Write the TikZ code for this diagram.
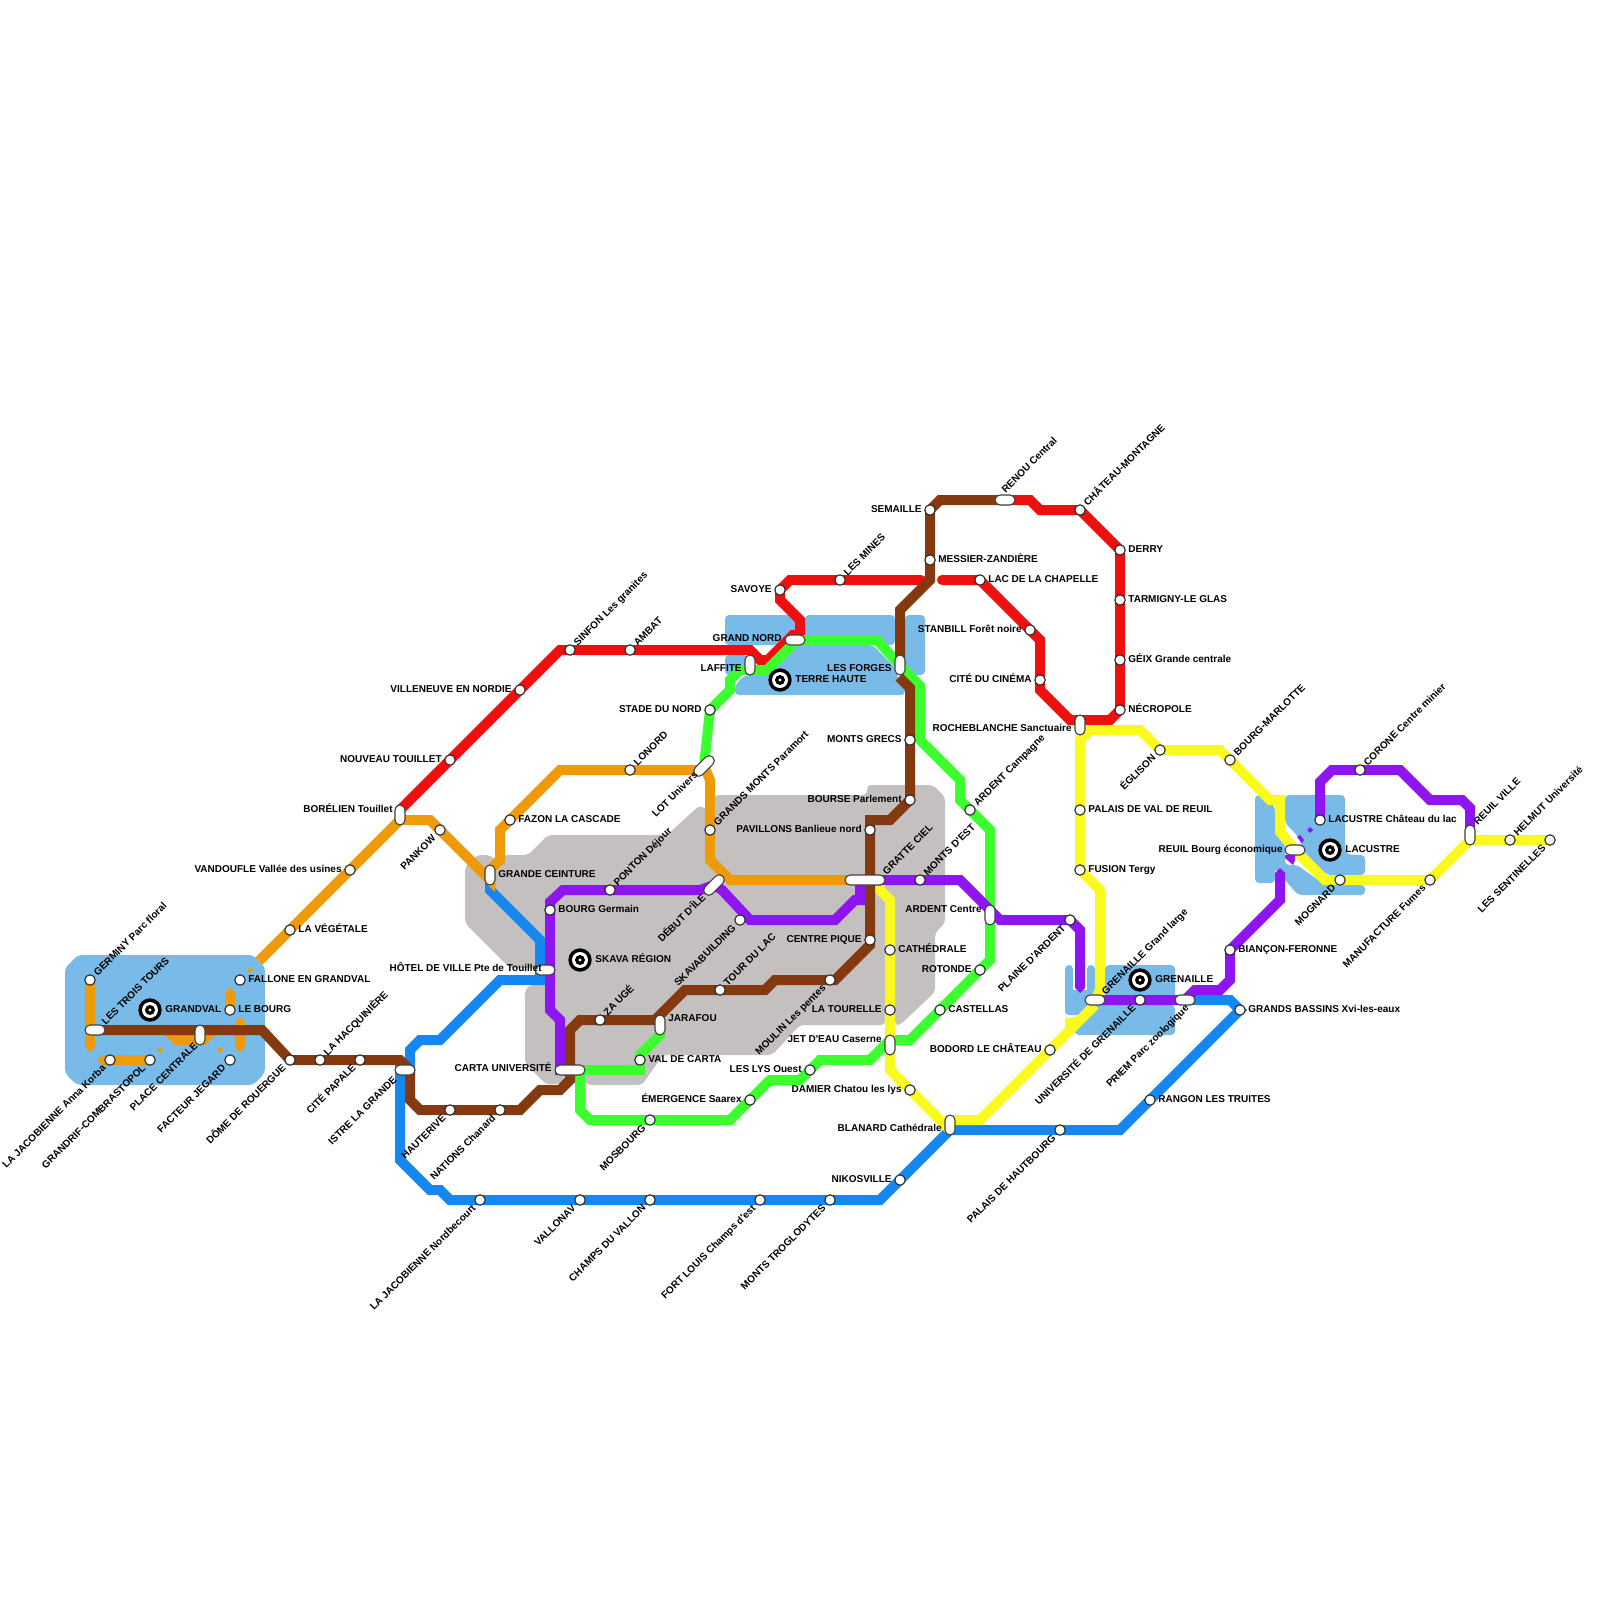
\documentclass[tikz,border=0pt]{standalone}
\usepackage{fontspec}
\usetikzlibrary{shapes.misc}
\newfontfamily\labfont{Liberation Sans}
\pgfdeclarelayer{areas}
\pgfdeclarelayer{lines}
\pgfsetlayers{areas,lines,main}
\definecolor{cOr}{HTML}{EE9A09}
\definecolor{cRe}{HTML}{F00F0F}
\definecolor{cGr}{HTML}{3CFF2E}
\definecolor{cYe}{HTML}{FAFA1E}
\definecolor{cPu}{HTML}{8E14F0}
\definecolor{cBr}{HTML}{843A0E}
\definecolor{cBl}{HTML}{1487F0}
\definecolor{cZone}{HTML}{79BBE8}
\definecolor{cGray}{HTML}{C4C0BF}
\tikzset{
 stop/.style={circle,draw=black!85,fill=white,line width=.55pt,minimum size=5.2pt,inner sep=0pt},
 pillbox/.style={rounded rectangle,draw=black!75,fill=white,line width=.55pt,minimum height=5pt,inner sep=0pt,outer sep=0pt},
 labbase/.style={font=\labfont\bfseries\fontsize{5}{6}\selectfont,inner sep=0pt,text height=3.6pt,text depth=0pt,text=black},
 labr/.style={labbase,xshift=4pt,yshift=.75pt,anchor=west},
 labl/.style={labbase,xshift=-4pt,yshift=.75pt,anchor=east},
 labu/.style={labbase,xshift=2.5pt,yshift=3pt,rotate=45,anchor=west},
 labd/.style={labbase,xshift=-3pt,yshift=-3pt,rotate=45,anchor=east},
 pabr/.style={labbase,anchor=west},
 pabl/.style={labbase,anchor=east},
 pabu/.style={labbase,rotate=45,anchor=west},
 pabd/.style={labbase,rotate=45,anchor=east},
 metro/.style={line width=5pt,line join=miter,miter limit=4},
 zone/.style={fill=cZone,rounded corners=2pt},
 grayzone/.style={fill=cGray,rounded corners=2pt},
}
\newcommand{\stn}[5]{\node[stop] (#1) at (#2,#3) {}; \node[lab#4] (#1-t) at (#2,#3) {#5};}
\newcommand{\pil}[9]{\node[pillbox,minimum width=#5*.5pt,rotate=#4] (#1) at (#2,#3) {}; \node[pab#6] (#1-t) at (#7,#8) {#9};}
\newcommand{\tgt}[4]{\node[circle,fill=black,minimum size=11.7pt,inner sep=0pt] (#1) at (#2,#3) {};
 \node[circle,fill=white,minimum size=8pt,inner sep=0pt] (#1-a) at (#1.center) {};
 \node[circle,fill=black,minimum size=5pt,inner sep=0pt] (#1-b) at (#1.center) {};
 \node[circle,fill=white,minimum size=1.6pt,inner sep=0pt] (#1-c) at (#1.center) {};
 \node[labbase,anchor=west,xshift=7.5pt,yshift=.75pt] (#1-t) at (#1.center) {#4};}
\begin{document}
\begin{tikzpicture}[x=.5pt,y=-.5pt]
\useasboundingbox (0,0) rectangle (1600,1600);
% stations
\stn{germiny}{90}{980}{u}{GERMINY Parc floral}
\pil{trois}{95}{1030}{0}{20}{u}{103}{1023}{LES TROIS TOURS}
\tgt{grandval}{150}{1010}{GRANDVAL}
\stn{fallone}{240}{980}{r}{FALLONE EN GRANDVAL}
\stn{lebourg}{230}{1010}{r}{LE BOURG}
\stn{vegetale}{290}{930}{r}{LA VÉGÉTALE}
\stn{korba}{110}{1060}{d}{LA JACOBIENNE Anna Korba}
\stn{grandrif}{150}{1060}{d}{GRANDRIF-COMBRASTOPOL}
\pil{placec}{200}{1035}{90}{20}{d}{196}{1044}{PLACE CENTRALE}
\stn{facteur}{230}{1060}{d}{FACTEUR JEGARD}
\stn{dome}{290}{1060}{d}{DÔME DE ROUERGUE}
\stn{hacq}{320}{1060}{u}{LA HACQUINIÈRE}
\stn{papale}{360}{1060}{d}{CITÉ PAPALE}
\pil{istre}{405}{1070}{0}{20}{d}{395}{1078}{ISTRE LA GRANDE}
\stn{hauterive}{450}{1110}{d}{HAUTERIVE}
\stn{nations}{500}{1110}{d}{NATIONS Chanard}
\stn{vandoufle}{350}{870}{l}{VANDOUFLE Vallée des usines}
\pil{borelien}{400}{815}{90}{20}{l}{393}{809}{BORÉLIEN Touillet}
\stn{nouveau}{450}{760}{l}{NOUVEAU TOUILLET}
\stn{villeneuve}{520}{690}{l}{VILLENEUVE EN NORDIE}
\stn{sinfon}{570}{650}{u}{SINFON Les granites}
\stn{ambat}{630}{650}{u}{AMBAT}
\stn{pankow}{440}{830}{d}{PANKOW}
\pil{ceinture}{490}{875}{90}{20}{r}{498}{874}{GRANDE CEINTURE}
\stn{fazon}{510}{820}{r}{FAZON LA CASCADE}
\stn{lonord}{630}{770}{u}{LONORD}
\pil{lot}{704}{766}{45}{25}{d}{696}{773}{LOT Univers}
\stn{paramort}{710}{830}{u}{GRANDS MONTS Paramort}
\pil{debut}{714}{885}{45}{25}{d}{704}{896}{DÉBUT D'ÎLE}
\stn{ponton}{610}{890}{u}{PONTON Déjour}
\stn{germain}{550}{910}{r}{BOURG Germain}
\tgt{skava}{580}{960}{SKAVA RÉGION}
\pil{hotel}{545}{970}{0}{20}{l}{542}{968}{HÔTEL DE VILLE Pte de Touillet}
\stn{skavab}{740}{920}{d}{SKAVABUILDING}
\stn{tourlac}{720}{990}{u}{TOUR DU LAC}
\stn{zauge}{600}{1020}{u}{ZA UGÉ}
\pil{jarafou}{660}{1025}{90}{20}{r}{668}{1018}{JARAFOU}
\pil{carta}{570}{1070}{0}{30}{l}{552}{1068}{CARTA UNIVERSITÉ}
\stn{valcarta}{640}{1060}{r}{VAL DE CARTA}
\stn{mosbourg}{650}{1120}{d}{MOSBOURG}
\stn{emergence}{750}{1100}{l}{ÉMERGENCE Saarex}
\stn{leslys}{810}{1070}{l}{LES LYS Ouest}
\stn{moulin}{830}{980}{d}{MOULIN Les pentes}
\stn{centrep}{870}{940}{l}{CENTRE PIQUE}
\stn{pavillons}{870}{830}{l}{PAVILLONS Banlieue nord}
\stn{bourse}{910}{800}{l}{BOURSE Parlement}
\stn{grecs}{910}{740}{l}{MONTS GRECS}
\pil{forges}{900}{665}{90}{20}{l}{892}{668}{LES FORGES}
\tgt{terre}{780}{680}{TERRE HAUTE}
\pil{laffite}{750}{665}{90}{20}{l}{742}{668}{LAFFITE}
\pil{gnord}{795}{640}{0}{20}{l}{782}{638}{GRAND NORD}
\stn{stade}{710}{710}{l}{STADE DU NORD}
\stn{savoye}{780}{590}{l}{SAVOYE}
\stn{mines}{840}{580}{u}{LES MINES}
\stn{semaille}{930}{510}{l}{SEMAILLE}
\stn{messier}{930}{560}{r}{MESSIER-ZANDIÈRE}
\pil{renou}{1005}{500}{0}{20}{u}{1003}{491}{RENOU Central}
\stn{chateau}{1080}{510}{u}{CHÂTEAU-MONTAGNE}
\stn{derry}{1120}{550}{r}{DERRY}
\stn{tarmigny}{1120}{600}{r}{TARMIGNY-LE GLAS}
\stn{geix}{1120}{660}{r}{GÉIX Grande centrale}
\stn{necropole}{1120}{710}{r}{NÉCROPOLE}
\stn{lacchap}{980}{580}{r}{LAC DE LA CHAPELLE}
\stn{stanbill}{1030}{630}{l}{STANBILL Forêt noire}
\stn{cinema}{1040}{680}{l}{CITÉ DU CINÉMA}
\pil{roche}{1080}{725}{90}{20}{l}{1072}{728}{ROCHEBLANCHE Sanctuaire}
\pil{gratte}{865}{880}{0}{40}{u}{884}{873}{GRATTE CIEL}
\stn{montsest}{920}{880}{u}{MONTS D'EST}
\stn{campagne}{970}{810}{u}{ARDENT Campagne}
\pil{ardentc}{990}{915}{90}{20}{l}{982}{909}{ARDENT Centre}
\stn{cathedrale}{890}{950}{r}{CATHÉDRALE}
\stn{rotonde}{980}{970}{l}{ROTONDE}
\stn{tourelle}{890}{1010}{l}{LA TOURELLE}
\stn{castellas}{940}{1010}{r}{CASTELLAS}
\pil{jet}{890}{1045}{90}{20}{l}{882}{1039}{JET D'EAU Caserne}
\stn{damier}{910}{1090}{l}{DAMIER Chatou les lys}
\stn{bodord}{1050}{1050}{l}{BODORD LE CHÂTEAU}
\pil{blanard}{950}{1125}{90}{20}{l}{942}{1128}{BLANARD Cathédrale}
\stn{nikos}{900}{1180}{l}{NIKOSVILLE}
\stn{troglo}{830}{1200}{d}{MONTS TROGLODYTES}
\stn{fort}{760}{1200}{d}{FORT LOUIS Champs d'est}
\stn{champs}{650}{1200}{d}{CHAMPS DU VALLON}
\stn{vallonav}{580}{1200}{d}{VALLONAV}
\stn{nordb}{480}{1200}{d}{LA JACOBIENNE Nordbecourt}
\stn{hautbourg}{1060}{1130}{d}{PALAIS DE HAUTBOURG}
\stn{rangon}{1150}{1100}{r}{RANGON LES TRUITES}
\stn{bassins}{1240}{1010}{r}{GRANDS BASSINS Xvi-les-eaux}
\pil{priem}{1185}{1000}{0}{20}{d}{1187}{1006}{PRIEM Parc zoologique}
\stn{univ}{1140}{1000}{d}{UNIVERSITÉ DE GRENAILLE}
\pil{glarge}{1095}{1000}{0}{20}{u}{1103}{993}{GRENAILLE Grand large}
\tgt{grenaille}{1140}{980}{GRENAILLE}
\stn{plaine}{1070}{920}{d}{PLAINE D'ARDENT}
\stn{valreuil}{1080}{810}{r}{PALAIS DE VAL DE REUIL}
\stn{fusion}{1080}{870}{r}{FUSION Tergy}
\stn{biancon}{1230}{950}{r}{BIANÇON-FERONNE}
\stn{marlotte}{1230}{760}{u}{BOURG-MARLOTTE}
\stn{eglison}{1160}{750}{d}{ÉGLISON}
\pil{reuilb}{1295}{850}{0}{20}{l}{1283}{849}{REUIL Bourg économique}
\stn{lacchat}{1320}{820}{r}{LACUSTRE Château du lac}
\tgt{lacustre}{1330}{850}{LACUSTRE}
\stn{corone}{1360}{770}{u}{CORONE Centre minier}
\stn{mognard}{1340}{880}{d}{MOGNARD}
\stn{manuf}{1430}{880}{d}{MANUFACTURE Fumes}
\pil{reuilv}{1470}{835}{90}{20}{u}{1475}{823}{REUIL VILLE}
\stn{helmut}{1510}{840}{u}{HELMUT Université}
\stn{sentinelles}{1550}{840}{d}{LES SENTINELLES}
% areas
\begin{pgfonlayer}{areas}
\fill[white] (0,0) rectangle (1600,1600);
\fill[grayzone] (465,867) -- (477,855) -- (490,855) -- (495,860) -- (505,855) -- (528,855) -- (548,835) -- (667,835) -- (700,805) -- (705,810) -- (710,800) -- (715,795) -- (867,795) -- (867,785) -- (933,785) -- (945,797) -- (945,923) -- (935,933) -- (935,992) -- (900,1025) -- (895,1025) -- (895,905) -- (885,905) -- (885,1025) -- (800,1025) -- (772,1055) -- (663,1055) -- (642,1085) -- (587,1085) -- (585,1080) -- (547,1085) -- (525,1063) -- (525,990) -- (530,985) -- (540,985) -- (540,968) -- (510,968) -- (465,923) -- cycle;
\fill[zone] (65,968) -- (78,955) -- (253,955) -- (265,967) -- (265,1073) -- (253,1085) -- (77,1085) -- (65,1073) -- cycle;
% Terre Haute
\fill[zone] (725,615) rectangle (795,645);
\fill[zone] (805,615) rectangle (895,645);
\fill[zone] (905,615) rectangle (925,675);
\fill[zone] (725,655) rectangle (747,675);
\fill[zone] (735,695) -- (735,685) -- (745,675) -- (770,675) -- (797,645) -- (873,645) -- (897,670) -- (897,677) -- (905,687) -- (905,695) -- cycle;
% Grenaille
\fill[zone] (1065,965) rectangle (1073,1015);
\fill[zone] (1065,990) rectangle (1095,1015);
\fill[zone] (1087,965) rectangle (1095,1000);
\fill[zone] (1105,965) rectangle (1175,1000);
\fill[zone] (1095,1005) -- (1175,1005) -- (1175,1035) -- (1075,1035) -- (1075,1030) -- cycle;
% Lacustre
\fill[zone] (1255,795) -- (1263,795) -- (1275,807) -- (1275,828) -- (1285,838) -- (1285,865) -- (1297,865) -- (1325,885) -- (1365,885) -- (1365,895) -- (1298,895) -- (1285,880) -- (1275,868) -- (1275,883) -- (1255,883) -- cycle;
\fill[zone] (1285,795) -- (1345,795) -- (1345,852) -- (1350,855) -- (1365,855) -- (1365,875) -- (1327,875) -- (1305,853) -- (1297,835) -- (1285,823) -- cycle;
\end{pgfonlayer}
% lines
\begin{pgfonlayer}{lines}
% blue
\draw[metro,cBl] (ceinture.center) -- (490,890) -- (540,940) -- (540,980) -- (500,980) -- (440,1040) -- (420,1040) -- (410,1050) -- (410,1070) -- (400,1070) -- (400,1160) -- (430,1190) -- (440,1190) -- (450,1200) -- (880,1200) -- (950,1130) -- (1120,1130) -- (bassins.center) -- (1230,1000) -- (priem.center);
% orange
\draw[metro,cOr] (259,961) -- (vegetale.center) -- (vandoufle.center) -- (400,820) -- (430,820) -- (490,880) -- (490,870) -- (500,860) -- (500,830) -- (fazon.center) -- (560,770) -- (700,770) -- (lot.center) -- (710,780) -- (710,860) -- (730,880) -- (gratte.center);
\fill[cOr] (85,980) -- (95,980) -- (95,1047) -- (90,1052) -- (85,1047) -- cycle;
\fill[cOr] (97,1060) -- (103,1055) -- (150,1055) -- (150,1065) -- (103,1065) -- cycle;
\fill[cOr] (165,1035) -- (215,1035) -- (205,1045) -- (175,1045) -- cycle;
\fill[cOr] (160,1047) -- (163,1050) -- (160,1053) -- (157,1050) -- cycle;
\fill[cOr] (220,1047) -- (223,1050) -- (220,1053) -- (217,1050) -- cycle;
\fill[cOr] (250,967) -- (253,970) -- (250,973) -- (247,970) -- cycle;
\fill[cOr] (225,993) -- (230,987) -- (235,993) -- (235,1010) -- (225,1010) -- cycle;
\fill[cOr] (235,1022) -- (240,1017) -- (245,1022) -- (245,1025) -- (235,1025) -- cycle;
\fill[cOr] (235,1035) -- (245,1035) -- (245,1047) -- (240,1052) -- (235,1047) -- cycle;
% red
\draw[metro,cRe,line cap=round] (borelien.center) -- (400,810) -- (560,650) -- (750,650) -- (760,660) -- (768,660) -- (793,635) -- (800,635) -- (800,620) -- (780,600) -- (780,590) -- (790,580) -- (921,580);
\draw[metro,cRe,line cap=round] (942,580) -- (lacchap.center) -- (1040,640) -- (1040,690) -- (1070,720) -- (1110,720) -- (1120,710) -- (1120,550) -- (1080,510) -- (1040,510) -- (1030,500) -- (renou.center);
% green
\draw[metro,cGr] (lot.center) -- (stade.center) -- (730,690) -- (730,680) -- (740,670) -- (767,670) -- (797,640) -- (877,640) -- (895,660) -- (920,686) -- (920,740) -- (960,780) -- (960,800) -- (990,830) -- (990,960) -- (910,1040) -- (890,1040) -- (870,1060) -- (820,1060) -- (800,1080) -- (770,1080) -- (730,1120) -- (590,1120) -- (580,1110) -- (580,1070) -- (640,1070) -- (640,1055) -- (660,1035) -- (jarafou.center);
% yellow
\draw[metro,cYe] (880,885) -- (880,890) -- (890,900) -- (890,1070) -- (950,1130);
\draw[metro,cYe] (950,1120) -- (980,1120) -- (1095,1005);
\fill[cYe] (1065,1018) -- (1075,1017) -- (1080,1022) -- (1065,1032) -- cycle;
\draw[metro,cYe] (glarge.center) -- (1100,990) -- (1100,890) -- (fusion.center) -- (1080,740) -- (1090,730) -- (1140,730) -- (eglison.center) -- (1220,750) -- (1270,800) -- (1280,800) -- (1280,832) -- (reuilb.center) -- (1325,880) -- (manuf.center) -- (1470,840) -- (sentinelles.center);
% purple
\draw[metro,cPu] (carta.center) -- (560,1070) -- (560,1020) -- (550,1010) -- (550,902) -- (563,890) -- (700,890) -- (debut.center) -- (722,890) -- (750,920) -- (835,920) -- (855,900) -- (860,900) -- (860,885);
\draw[metro,cPu] (gratte.center) -- (960,880) -- (1000,920) -- (plaine.center) -- (1080,930) -- (1080,988);
\fill[cPu] (1075,988) -- (1085,988) -- (1080,993) -- cycle;
\draw[metro,cPu] (glarge.center) -- (priem.center) -- (1195,990) -- (1220,990) -- (1230,980) -- (biancon.center) -- (1280,900) -- (1280,873);
\fill[cPu] (1275,873) -- (1285,873) -- (1280,868) -- cycle;
\draw[metro,cPu] (lacchat.center) -- (1320,782) -- (1332,770) -- (1400,770) -- (1430,800) -- (1462,800) -- (1470,808) -- (reuilv.center);
\fill[cPu] (1285,855) -- (1295,855) -- (1295,860) -- (1293,865) -- (1285,858) -- cycle;
\fill[cPu] (1297,837) -- (1300,835) -- (1304,840) -- (1302,843) -- cycle;
\fill[cPu] (1310,827) -- (1313,830) -- (1310,833) -- (1307,830) -- cycle;
% brown
\draw[metro,cBr] (trois.center) -- (262,1030) -- (dome.center) -- (400,1060) -- (410,1070) -- (410,1100) -- (420,1110) -- (520,1110) -- (540,1090) -- (560,1090) -- (570,1080) -- (570,1030) -- (580,1020) -- (655,1020) -- (685,990) -- (765,990) -- (775,980) -- (835,980) -- (870,945) -- (870,820) -- (890,820) -- (bourse.center) -- (910,688) -- (899,677);
\draw[metro,cBr] (forges.center) -- (900,610) -- (930,580) -- (semaille.center) -- (940,500) -- (renou.center);
\end{pgfonlayer}
\end{tikzpicture}
\end{document}
